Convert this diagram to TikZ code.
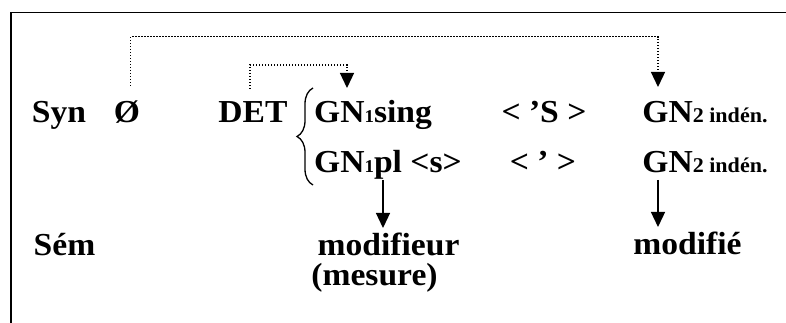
\documentclass[tikz,border=0pt]{standalone}
\usepackage{fontspec}
\setmainfont{Liberation Serif}[FakeStretch=1.05]
\usetikzlibrary{arrows.meta,decorations.pathreplacing}
\newcommand\subsm[1]{{\fontsize{21}{21}\selectfont #1}}
\newcommand\subone[1]{{\fontsize{18}{18}\selectfont #1}}
\begin{document}
\begin{tikzpicture}[x=1pt,y=1pt,
  lbl/.style={font=\fontsize{32}{34}\selectfont\bfseries, inner sep=0pt, anchor=base},
  lblw/.style={lbl, anchor=base west},
  dotln/.style={line width=1.3pt, dash pattern=on 1.3pt off 1.7pt, -{Triangle[length=15pt,width=14pt]}},
  solidarr/.style={line width=1.3pt, -{Triangle[length=15pt,width=14pt]}},
  framel/.style={line width=1.5pt},
  bracel/.style={line width=1.3pt, decorate, decoration={brace, amplitude=16pt}}]
\useasboundingbox (0,0) rectangle (786,323);
% frame
\draw[framel] (11,0) -- (11,310.5) -- (786,310.5);
% row 1
\node[lbl] (syn) at (59,200) {Syn};
\node[lbl] (zero) at (127,200) {Ø};
\node[lbl] (det) at (253,200) {DET};
\node[lblw] (gnsing) at (314,200) {GN\subone{1}sing};
\node[lbl] (aposS) at (544,200) {< ’S >};
\node[lbl] (gnA) at (705,200) {GN\subsm{2 indén.}};
% row 2
\node[lblw] (gnpl) at (314,150) {GN\subone{1}pl <s>};
\node[lbl] (apos) at (543,150) {< ’ >};
\node[lbl] (gnB) at (705,150) {GN\subsm{2 indén.}};
% row 3
\node[lbl] (sem) at (64.5,67) {Sém};
\node[lbl] (modifieur) at (388.5,67) {modifieur};
\node[lbl] (mesure) at (374.5,37.5) {(mesure)};
\node[lbl] (modifie) at (687.5,68) {modifié};
% brace
\draw[bracel] (313,138) -- (313,235);
% connector anchors
\coordinate (zeroTop) at (130.7,237);
\coordinate (tipA) at (658,236);
\coordinate (detTop) at (250,234);
\coordinate (tipB) at (347,235);
\coordinate (plBot) at (383,143);
\coordinate (tipC) at (383,95);
\coordinate (gnBot) at (658,143);
\coordinate (tipD) at (658,96);
% dotted connectors
\draw[dotln] (zeroTop) -- ++(0,49.3) -| (tipA);
\draw[dotln] (detTop) -- ++(0,24) -| (tipB);
% solid arrows
\draw[solidarr] (plBot) -- (tipC);
\draw[solidarr] (gnBot) -- (tipD);
\end{tikzpicture}
\end{document}
